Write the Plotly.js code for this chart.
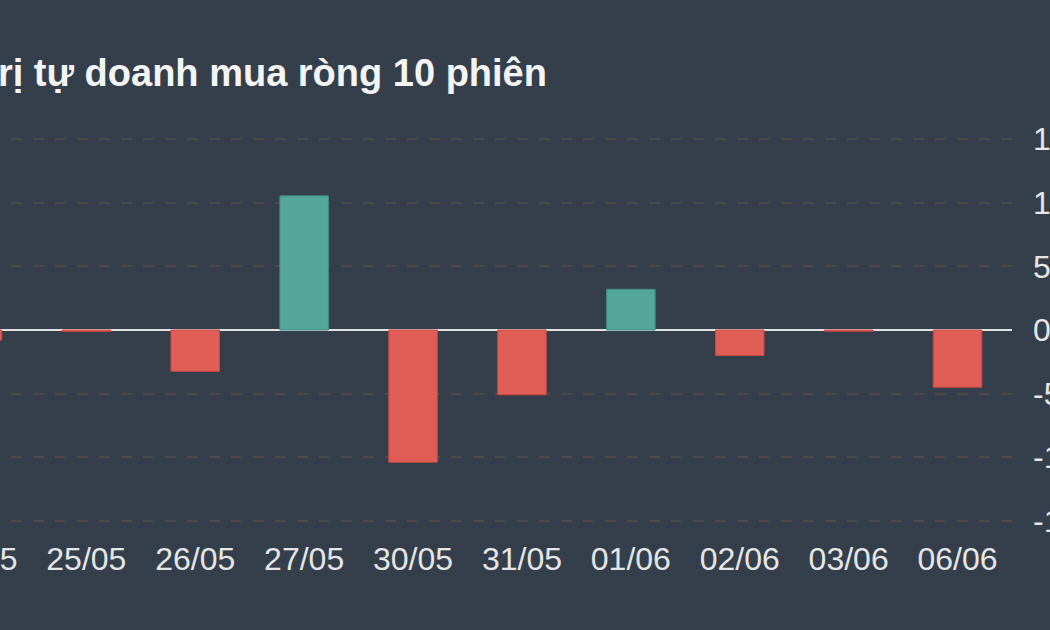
<!DOCTYPE html>
<html>
<head>
<meta charset="utf-8">
<script src="https://cdn.plot.ly/plotly-3.0.1.min.js"></script>
<style>
  html, body { margin: 0; padding: 0; width: 1050px; height: 630px; overflow: hidden; background: #343f4b; }
  #chart { position: absolute; left: -150px; top: 0; width: 1260px; height: 630px; }
</style>
</head>
<body>
<div id="chart"></div>
<script>
// Data (net proprietary buying, 10 sessions)
const categories = ["24/05", "25/05", "26/05", "27/05", "30/05", "31/05", "01/06", "02/06", "03/06", "06/06"];
const values = [-8, -1.2, -32.5, 105.5, -104, -51, 32, -20, -1, -45];
const yTicks = [-150, -100, -50, 0, 50, 100, 150];
const titleText = "Giá trị tự doanh mua ròng 10 phiên";

const UP = "#52a69a", DOWN = "#e05e55";
const UP_LINE = "#3f8f83", DOWN_LINE = "#c84a42";

const trace = {
  type: "bar",
  x: categories,
  y: values,
  width: 0.446,
  marker: {
    color: values.map(v => v >= 0 ? UP : DOWN),
    line: { color: values.map(v => v >= 0 ? UP_LINE : DOWN_LINE), width: 1 }
  },
  hoverinfo: "x+y"
};

const layout = {
  width: 1260,
  height: 630,
  paper_bgcolor: "#343f4b",
  plot_bgcolor: "#343f4b",
  font: { family: "Liberation Sans, Arial, sans-serif", color: "#e6e6e6" },
  margin: { l: 72.5, r: 97.5, t: 138.2, b: 108.2, pad: 0 },
  showlegend: false,
  title: {
    text: titleText,
    font: { size: 38, weight: "bold", color: "#f4f4f4", family: "Liberation Sans, Arial, sans-serif" },
    xref: "container", x: 0.0504, xanchor: "left",
    yref: "container", y: 0.906, yanchor: "top",
    pad: { t: 0, b: 0, l: 0, r: 0 }
  },
  xaxis: {
    type: "category",
    showgrid: false,
    zeroline: false,
    showline: false,
    ticks: "",
    ticklabelstandoff: 15,
    tickfont: { size: 32, color: "#e6e6e6" }
  },
  yaxis: {
    side: "right",
    range: [-151, 151],
    tickvals: yTicks,
    ticktext: yTicks.map(String),
    showgrid: true,
    gridcolor: "#4e4a45",
    gridwidth: 2,
    griddash: "11px,11px",
    zeroline: true,
    zerolinecolor: "#e3e3e3",
    zerolinewidth: 2,
    showline: false,
    ticks: "",
    ticklabelstandoff: 20,
    tickfont: { size: 32, color: "#e6e6e6" }
  }
};

Plotly.newPlot("chart", [trace], layout, { displayModeBar: false, staticPlot: true });
</script>
</body>
</html>
